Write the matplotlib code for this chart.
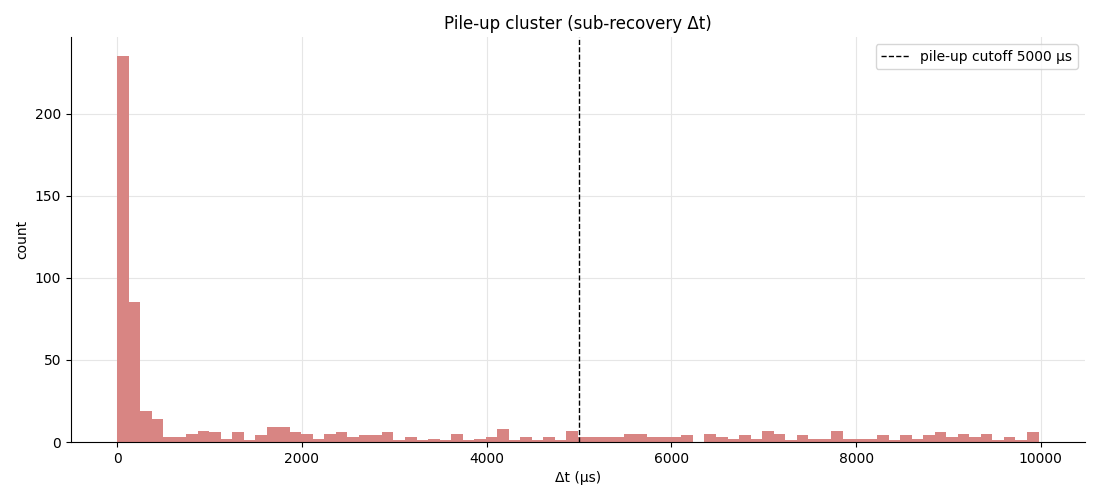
import numpy as np
import matplotlib
matplotlib.use("Agg")
import matplotlib.pyplot as plt

data_min = 0
data_max = 9975
n_bins = 80
bin_edges = np.linspace(data_min, data_max, n_bins + 1)
counts = [235, 85, 19, 14, 3, 3, 5, 7, 6, 2,
          6, 1, 4, 9, 9, 6, 5, 2, 5, 6,
          3, 4, 4, 6, 1, 3, 1, 2, 1, 5,
          1, 2, 3, 8, 1, 3, 1, 3, 1, 7,
          3, 3, 3, 3, 5, 5, 3, 3, 3, 4,
          0, 5, 3, 2, 4, 2, 7, 5, 1, 4,
          2, 2, 7, 2, 2, 2, 4, 1, 4, 2,
          4, 6, 3, 5, 3, 5, 1, 3, 1, 6]
cutoff = 5000

fig, ax = plt.subplots(figsize=(11, 5), dpi=100)
ax.hist(bin_edges[:-1], bins=bin_edges, weights=counts, color="#d88583")
ax.axvline(cutoff, color="black", linestyle="--", linewidth=1,
           label=f"pile-up cutoff {cutoff} µs")
ax.set_title("Pile-up cluster (sub-recovery Δt)")
ax.set_xlabel("Δt (µs)")
ax.set_ylabel("count")
ax.grid(True, color="#e6e6e6", linewidth=0.8)
ax.set_axisbelow(True)
ax.spines["top"].set_visible(False)
ax.spines["right"].set_visible(False)
ax.legend(loc="upper right")
fig.subplots_adjust(left=0.0645, right=0.986, top=0.926, bottom=0.116)
fig.savefig("out.png")
